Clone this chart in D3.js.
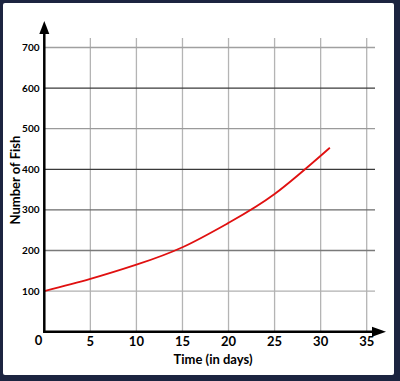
<!DOCTYPE html>
<html>
<head>
<meta charset="utf-8">
<script src="https://cdn.jsdelivr.net/npm/d3@7"></script>
<style>
  body { margin: 0; background: #fff; }
  svg { display: block; font-family: Lato, "Open Sans", sans-serif; }
</style>
</head>
<body>
<svg id="chart"></svg>
<script>
// data
var days = [0, 5, 10, 15, 20, 25, 31];
var fish = [100, 130, 165, 208, 268, 339, 453];
var xTicks = [5, 10, 15, 20, 25, 30, 35];
var yTicks = [100, 200, 300, 400, 500, 600, 700];
// grid line shades (horizontal lines are not all the same in the original)
var hGridColors = {100: "#b0b0b0", 200: "#7a7a7a", 300: "#6a6a6a", 400: "#3a3a3a",
                   500: "#9a9a9a", 600: "#3a3a3a", 700: "#a0a0a0"};

var width = 400;
var height = 381;

var svg = d3.select("#chart")
              .attr("width", width)
              .attr("height", height);

// frame
svg.append("rect")
    .attr("width", width)
    .attr("height", height)
    .attr("fill", "#1c2440");
svg.append("rect")
    .attr("x", 3)
    .attr("y", 3)
    .attr("width", 391)
    .attr("height", 372)
    .attr("rx", 2)
    .attr("fill", "#fff");

var x = d3.scaleLinear()
            .domain([0, 35])
            .range([44.3, 366.7]);

var y = d3.scaleLinear()
            .domain([0, 700])
            .range([331.7, 47.5]);

// vertical grid
svg.append("g")
  .selectAll("line")
  .data(xTicks)
  .enter()
  .append("line")
    .attr("x1", d => x(d))
    .attr("x2", d => x(d))
    .attr("y1", 38)
    .attr("y2", y(0))
    .attr("stroke", "#b4b4b4")
    .attr("stroke-width", 1.3);

// horizontal grid
svg.append("g")
  .selectAll("line")
  .data(yTicks)
  .enter()
  .append("line")
    .attr("x1", x(0))
    .attr("x2", 375)
    .attr("y1", d => y(d))
    .attr("y2", d => y(d))
    .attr("stroke", d => hGridColors[d])
    .attr("stroke-width", 1.3);

// curve
var line = d3.line()
               .x((d, i) => x(days[i]))
               .y(d => y(d))
               .curve(d3.curveNatural);

svg.append("path")
    .datum(fish)
    .attr("d", line)
    .attr("fill", "none")
    .attr("stroke", "#e01010")
    .attr("stroke-width", 1.8);

// axes with arrows
svg.append("line")
    .attr("x1", x(0))
    .attr("x2", x(0))
    .attr("y1", y(0) + 1)
    .attr("y2", 30)
    .attr("stroke", "#000")
    .attr("stroke-width", 2.5);
svg.append("path")
    .attr("d", d3.line()([[x(0), 21], [x(0) - 5, 34], [x(0) + 5, 34]]) + "Z")
    .attr("fill", "#000");

svg.append("line")
    .attr("x1", x(0) - 1.2)
    .attr("x2", 378)
    .attr("y1", y(0))
    .attr("y2", y(0))
    .attr("stroke", "#000")
    .attr("stroke-width", 2.5);
svg.append("path")
    .attr("d", d3.line()([[386, y(0)], [372, y(0) - 5], [372, y(0) + 5]]) + "Z")
    .attr("fill", "#000");

// tick labels
svg.append("g")
  .selectAll("text")
  .data(yTicks)
  .enter()
  .append("text")
    .attr("x", 39.5)
    .attr("y", d => y(d))
    .attr("dy", "0.35em")
    .attr("text-anchor", "end")
    .attr("font-size", 10)
    .attr("font-weight", 700)
    .text(d => d);

svg.append("g")
  .selectAll("text")
  .data(xTicks)
  .enter()
  .append("text")
    .attr("x", d => x(d))
    .attr("y", 345.5)
    .attr("text-anchor", "middle")
    .attr("font-size", 13)
    .attr("font-weight", 700)
    .text(d => d);

svg.append("text")
    .attr("x", 38.5)
    .attr("y", 345)
    .attr("text-anchor", "middle")
    .attr("font-size", 13)
    .attr("font-weight", 700)
    .text("0");

// axis titles
svg.append("text")
    .attr("x", 213)
    .attr("y", 364)
    .attr("text-anchor", "middle")
    .attr("font-size", 13)
    .attr("font-weight", 700)
    .text("Time (in days)");

svg.append("text")
    .attr("transform", "translate(20,180) rotate(-90)")
    .attr("text-anchor", "middle")
    .attr("font-size", 13)
    .attr("font-weight", 700)
    .text("Number of Fish");
</script>
</body>
</html>
